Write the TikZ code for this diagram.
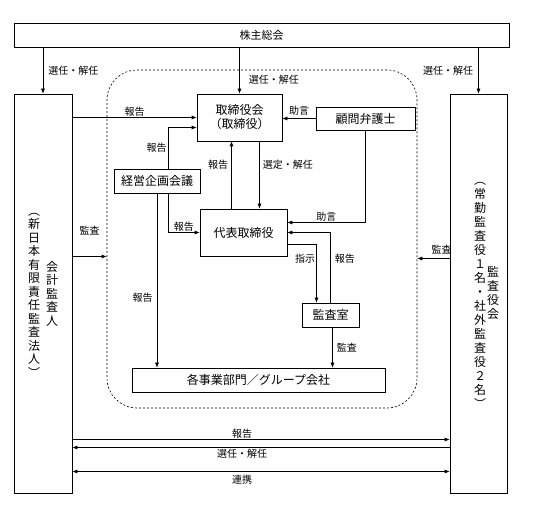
\documentclass[tikz,border=0pt]{standalone}
\usepackage{fontspec}
\setmainfont{Noto Sans CJK JP}
\usetikzlibrary{arrows.meta}

\begin{document}
\begin{tikzpicture}[x=1pt,y=-1pt,semithick,>={Latex[length=5pt,width=4pt]},
    every node/.append style={inner sep=1pt},
    box/.style={draw,rectangle,align=center,font=\fontsize{12}{14}\selectfont},
    lbl/.style={font=\fontsize{10}{11}\selectfont},
    vtext/.style={align=center,inner sep=0pt}]
      \useasboundingbox (0,0) rectangle (533,529);

      \node[draw,dash pattern=on 2pt off 2pt,rounded corners=30pt,minimum width=310pt,minimum height=338pt] (group) at (262,239) {};

      \node[box,minimum width=495pt,minimum height=24pt,font=\fontsize{11}{12}\selectfont] (soukai) at (261.5,35) {株主総会};
      \node[box,minimum width=58pt,minimum height=399pt] (kaikei) at (43,293.5) {};
      \node[box,minimum width=57pt,minimum height=399pt] (kansayaku) at (478.5,293.5) {};
      \node[vtext,font=\fontsize{12}{13.5}\selectfont] (kaikeiname) at (52,293.5) {会\\計\\監\\査\\人};
      \node[vtext,font=\fontsize{12}{13.5}\selectfont] (kaikeinote) at (34,295) {︵\\新\\日\\本\\有\\限\\責\\任\\監\\査\\法\\人\\︶};
      \node[vtext,font=\fontsize{12}{14}\selectfont] (kansayakuname) at (493,293) {監\\査\\役\\会};
      \node[vtext,font=\fontsize{12}{14}\selectfont] (kansayakunote) at (480,295) {︵\\常\\勤\\監\\査\\役\\１\\名\\・\\社\\外\\監\\査\\役\\２\\名\\︶};

      \node[box,minimum width=85pt,minimum height=47pt] (board) at (239.5,117.5) {取締役会\\（取締役）};
      \node[box,minimum width=99pt,minimum height=23pt] (bengoshi) at (365.5,118.5) {顧問弁護士};
      \node[box,minimum width=86pt,minimum height=24pt] (kikaku) at (157,181) {経営企画会議};
      \node[box,minimum width=87pt,minimum height=47pt] (daihyo) at (243.5,232.5) {代表取締役};
      \node[box,minimum width=57pt,minimum height=24pt] (kansashitsu) at (330.5,315) {監査室};
      \node[box,minimum width=253pt,minimum height=24pt] (jigyo) at (258.5,380) {各事業部門／グループ会社};

      \draw [->] (soukai.south -| kaikei.north)--node [lbl,midway,right=4pt] {選任・解任}(kaikei.north);
      \draw [->] (soukai.south -| board.north)--node [lbl,pos=0.7,right=8pt] {選任・解任}(board.north);
      \draw [->] (soukai.south -| kansayaku.north)--node [lbl,midway,left=4pt] {選任・解任}(kansayaku.north);

      \draw [->] (kaikei.east |- board.west)--node [lbl,above] {報告}(board.west);
      \draw [->] (bengoshi.west)--node [lbl,above=2pt] {助言}(bengoshi.west -| board.east);
      \draw [->] ([xshift=11pt]kikaku.north)|-node [lbl,pos=0.25,left] {報告}([yshift=-10pt]board.west);
      \draw [->] ([xshift=-12pt]daihyo.north)--node [lbl,pos=0.65,left=2pt] {報告}([xshift=-12pt]daihyo.north |- board.south);
      \draw [->] ([xshift=16pt]daihyo.north |- board.south)--node [lbl,pos=0.35,right=2pt] {選定・解任}([xshift=16pt]daihyo.north);
      \draw [->] (bengoshi.south)|-node [lbl,pos=0.75,above] {助言}([yshift=10pt]daihyo.east);
      \draw [->] ([xshift=11pt]kikaku.south)|-node [lbl,pos=0.75,above] {報告}(daihyo.west);
      \draw [->] (kikaku.south)--node [lbl,pos=0.6,left=3pt] {報告}(kikaku.south |- jigyo.north);
      \draw [->] ([yshift=-12pt]daihyo.east)-|node [lbl,pos=0.62,left] {指示}([xshift=-14pt]kansashitsu.north);
      \draw [->] (kansashitsu.north)|-node [lbl,pos=0.31,right=3pt] {報告}(daihyo.east);
      \draw [->] ([xshift=2pt]kansashitsu.south)--node [lbl,midway,right=3pt] {監査}([xshift=2pt]kansashitsu.south |- jigyo.north);

      \draw [->] ([yshift=37pt]kaikei.east)--node [lbl,midway,above=20pt] {監査}([yshift=37pt]kaikei.east -| group.west);
      \draw [->] ([yshift=35pt]kansayaku.west)--node [lbl,midway,above=3pt,xshift=8pt] {監査}([yshift=35pt]kansayaku.west -| group.east);

      \draw [->] ([yshift=-146pt]kaikei.east)--node [lbl,pos=0.45,above] {報告}([yshift=-146pt]kansayaku.west);
      \draw [->] ([yshift=-154pt]kansayaku.west)--node [lbl,pos=0.55,below] {選任・解任}([yshift=-154pt]kaikei.east);
      \draw [<->] ([yshift=-178pt]kaikei.east)--node [lbl,pos=0.45,below=2pt] {連携}([yshift=-178pt]kansayaku.west);
    \end{tikzpicture}
\end{document}
